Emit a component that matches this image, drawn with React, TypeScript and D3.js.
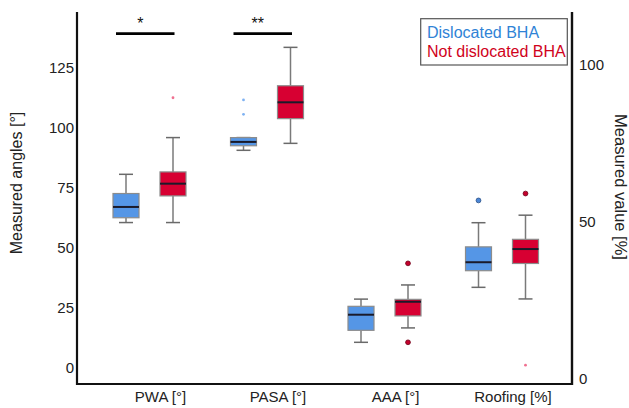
import React from "react";
import * as d3 from "d3";

const categories = ["PWA [°]", "PASA [°]", "AAA [°]", "Roofing [%]"];
const categoryAxis = ["left", "left", "left", "right"];
const groups = ["Dislocated BHA", "Not dislocated BHA"];

// [whiskerLow, q1, median, q3, whiskerHigh] per category
const dislocatedStats = [
  [60.6, 62.6, 67.1, 72.7, 80.7],
  [90.7, 92.6, 94.2, 96.0, 96.0],
  [10.7, 15.7, 22.2, 25.7, 28.7],
  [29.0, 34.3, 37.0, 41.9, 49.6],
];
const notDislocatedStats = [
  [60.6, 71.7, 76.8, 81.7, 96.0],
  [93.6, 103.9, 110.7, 117.6, 133.6],
  [16.7, 21.7, 27.6, 28.6, 34.6],
  [25.3, 36.6, 41.2, 44.3, 52.0],
];
// outliers: [categoryIndex, value, kind] kind: "o" circle, "x" extreme
const dislocatedOutliers: [number, number, string][] = [
  [1, 111.7, "x"],
  [1, 105.7, "x"],
  [3, 56.7, "o"],
];
const notDislocatedOutliers: [number, number, string][] = [
  [0, 112.6, "x"],
  [2, 43.6, "o"],
  [2, 10.7, "o"],
  [3, 58.9, "o"],
  [3, 4.2, "x"],
];
const leftTicks = [0, 25, 50, 75, 100, 125];
const rightTicks = [0, 50, 100];
const significance = [
  { category: 0, label: "*" },
  { category: 1, label: "**" },
];

const W = 629;
const H = 408;
const axisLeftX = 77;
const axisRightX = 572;
const plotTop = 12;
const plotBottom = 384;

const yLeft = d3.scaleLinear().domain([-6.67, 148.33]).range([plotBottom, plotTop]);
const yRight = d3.scaleLinear().domain([-1.817, 116.77]).range([plotBottom, plotTop]);
const xCat = d3.scalePoint<string>().domain(categories).range([149.5, 502]);
const xGroup = d3.scalePoint<string>().domain(groups).range([-23.5, 23.5]);

const fills = ["#5596e6", "#d70032"];
const outlierFill = ["#4a86d6", "#c4002c"];
const outlierStroke = ["#2a4f86", "#6e0018"];
const extremeFill = ["#7fb2f2", "#f07090"];
const legendText = ["#2f83d6", "#d0021b"];
const boxW = 26;
const capW = 14;
const font = "'Liberation Sans', Arial, sans-serif";

function Box({ stats, cx, y, fill }: { stats: number[]; cx: number; y: (v: number) => number; fill: string }) {
  const [lo, q1, med, q3, hi] = stats;
  return (
    <g>
      <line x1={cx} x2={cx} y1={y(hi)} y2={y(q3)} stroke="#7a7a7a" strokeWidth={1.5} />
      <line x1={cx} x2={cx} y1={y(q1)} y2={y(lo)} stroke="#7a7a7a" strokeWidth={1.5} />
      <line x1={cx - capW / 2} x2={cx + capW / 2} y1={y(hi)} y2={y(hi)} stroke="#6a6a6a" strokeWidth={1.5} />
      <line x1={cx - capW / 2} x2={cx + capW / 2} y1={y(lo)} y2={y(lo)} stroke="#6a6a6a" strokeWidth={1.5} />
      <rect x={cx - boxW / 2} y={y(q3)} width={boxW} height={y(q1) - y(q3)} fill={fill} stroke="#8c8c8c" strokeWidth={1.2} />
      <line x1={cx - boxW / 2} x2={cx + boxW / 2} y1={y(med)} y2={y(med)} stroke="#1a1a2a" strokeWidth={2} />
    </g>
  );
}

export default function App() {
  const allStats = [dislocatedStats, notDislocatedStats];
  const allOut = [dislocatedOutliers, notDislocatedOutliers];
  return (
    <svg width={W} height={H} style={{ position: "absolute", left: 0, top: 0, background: "#fff" }} fontFamily={font}>
      <rect x={0} y={0} width={W} height={H} fill="#fff" />
      {groups.map((g, gi) =>
        categories.map((c, ci) => {
          const y = categoryAxis[ci] === "left" ? yLeft : yRight;
          const cx = (xCat(c) as number) + (xGroup(g) as number);
          return <Box key={g + c} stats={allStats[gi][ci]} cx={cx} y={y} fill={fills[gi]} />;
        })
      )}
      {groups.map((g, gi) =>
        allOut[gi].map(([ci, v, kind], k) => {
          const y = categoryAxis[ci] === "left" ? yLeft : yRight;
          const cx = (xCat(categories[ci]) as number) + (xGroup(g) as number);
          return kind === "o" ? (
            <circle key={g + k} cx={cx} cy={y(v)} r={2.4} fill={outlierFill[gi]} stroke={outlierStroke[gi]} strokeWidth={0.8} />
          ) : (
            <circle key={g + k} cx={cx} cy={y(v)} r={1.4} fill={extremeFill[gi]} />
          );
        })
      )}
      {significance.map((s) => {
        const c = xCat(categories[s.category]) as number;
        const x1 = c - 33.5;
        const x2 = c + 25;
        return (
          <g key={s.label}>
            <line x1={x1} x2={x2} y1={33.7} y2={33.7} stroke="#000" strokeWidth={2.8} />
            <text x={(x1 + x2) / 2 - 5} y={29} textAnchor="middle" fontSize={16} fill="#111">{s.label}</text>
          </g>
        );
      })}
      {/* axes */}
      <line x1={axisLeftX} x2={axisLeftX} y1={plotTop} y2={plotBottom + 1} stroke="#111" strokeWidth={2.2} />
      <line x1={axisLeftX} x2={axisRightX} y1={plotBottom} y2={plotBottom} stroke="#111" strokeWidth={2.2} />
      <line x1={axisRightX} x2={axisRightX} y1={plotTop} y2={plotBottom + 1} stroke="#111" strokeWidth={2.4} />
      {leftTicks.map((t) => (
        <text key={t} x={74} y={yLeft(t)} dy="0.35em" textAnchor="end" fontSize={15} fill="#222">{t}</text>
      ))}
      {rightTicks.map((t) => (
        <text key={t} x={579} y={yRight(t)} dy="0.35em" textAnchor="start" fontSize={15} fill="#222">{t}</text>
      ))}
      {categories.map((c) => (
        <text key={c} x={(xCat(c) as number) + 11} y={402} textAnchor="middle" fontSize={15} fill="#222">{c}</text>
      ))}
      <text transform="translate(22,183) rotate(-90)" textAnchor="middle" fontSize={16} fill="#222">Measured angles [°]</text>
      <text transform="translate(614.5,187) rotate(90)" textAnchor="middle" fontSize={16.5} fill="#222">Measured value [%]</text>
      {/* legend */}
      <rect x={420.7} y={18.7} width={146.6} height={46.3} fill="#fff" stroke="#555" strokeWidth={1.2} />
      {groups.map((g, gi) => (
        <text key={g} x={427} y={37.5 + gi * 19.5} fontSize={16} fill={legendText[gi]}>{g}</text>
      ))}
    </svg>
  );
}
